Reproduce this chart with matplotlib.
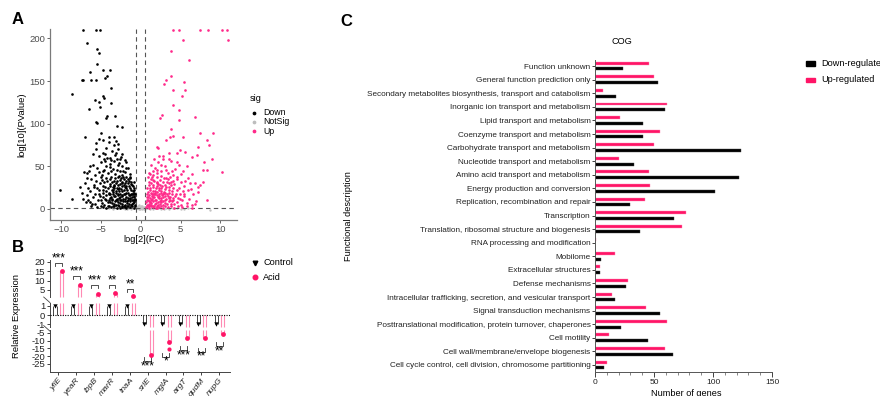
import numpy as np
import matplotlib
matplotlib.use('Agg')
import matplotlib.pyplot as plt
from matplotlib.patches import Rectangle
from matplotlib.lines import Line2D
from matplotlib.transforms import blended_transform_factory

plt.rcParams['font.family'] = ['Liberation Sans', 'DejaVu Sans']

# ---------------- Panel A: volcano data (log2FC, -log10 P) ----------------
down_pts = [
    (-7.2, 210), (-5.65, 210), (-5.1, 210), (-6.7, 194), (-5.44, 187), (-5.3, 183),
    (-5.5, 170), (-6.4, 160.6), (-7.2, 151), (-7.4, 151), (-6.3, 151.7), (-5.6, 151),
    (-4.8, 162.6), (-4.47, 154), (-4.2, 155.5), (-3.85, 162.6), (-3.77, 142), (-8.6, 134.5),
    (-4.56, 130.6), (-4.7, 132), (-3.75, 124), (-5.7, 127.5), (-5.3, 125.5), (-5.1, 119),
    (-6.5, 117.7), (-5.56, 102), (-5.44, 101), (-4.4, 107), (-4.2, 108.8), (-3.2, 108.8),
    (-2.93, 97), (-2.4, 95.5), (-7.0, 84.6), (-5.65, 76.8), (-5.0, 89.3), (-5.25, 82.3),
    (-4.7, 80.7), (-3.93, 84.6), (-3.35, 83.8), (-3.1, 80), (-2.8, 76), (-10.2, 22.2),
    (-8.6, 11.7), (-7.1, 43.7), (-6.35, 50.7), (-6.7, 35.9), (-7.6, 26), (-7.4, 18.3),
    (-6.85, 8.6), (-6.1, 5.8), (-5.9, 26),
    (-5.2, 62), (-4.8, 66), (-4.3, 72), (-3.9, 60), (-3.6, 68), (-3.2, 63), (-2.9, 70),
    (-2.6, 58), (-5.6, 70), (-4.6, 58), (-3.4, 75), (-2.3, 64), (-6.0, 64), (-4.0, 78),
    (-2.0, 57),
    (-6.5, 45), (-6.0, 52), (-5.5, 48), (-5.0, 55), (-4.7, 44), (-4.4, 50), (-4.1, 42),
    (-3.8, 53), (-3.5, 47), (-3.2, 41), (-2.9, 52), (-2.6, 45), (-2.3, 50), (-2.0, 43),
    (-1.8, 55), (-5.8, 40), (-5.3, 43), (-4.9, 40), (-3.0, 58), (-1.6, 48), (-2.4, 40),
    (-3.7, 44), (-4.5, 56), (-6.8, 42), (-1.4, 41),
    (-7.0, 30), (-6.6, 25), (-6.2, 35), (-5.9, 28), (-5.6, 33), (-5.3, 22), (-5.0, 38),
    (-4.8, 27), (-4.6, 31), (-4.3, 36), (-4.1, 24), (-3.9, 29), (-3.7, 38), (-3.5, 26),
    (-3.3, 33), (-3.1, 21), (-2.9, 37), (-2.8, 28), (-2.6, 34), (-2.5, 23), (-2.3, 30),
    (-2.2, 38), (-2.0, 26), (-1.9, 33), (-1.7, 22), (-1.6, 30), (-1.4, 36), (-1.3, 25),
    (-1.1, 28), (-0.9, 22), (-4.4, 21), (-3.6, 32), (-3.0, 24), (-2.7, 39), (-2.1, 35),
    (-1.5, 27), (-1.2, 32), (-0.8, 24), (-5.5, 25), (-4.9, 34), (-3.2, 36), (-2.4, 27),
    (-1.8, 38), (-1.0, 21), (-6.4, 21), (-5.1, 30),
    (-7.3, 12), (-6.8, 16), (-6.4, 8), (-6.0, 14), (-5.7, 18), (-5.4, 10), (-5.1, 15),
    (-4.9, 7), (-4.7, 19), (-4.5, 12), (-4.3, 16), (-4.1, 8), (-3.9, 13), (-3.8, 18),
    (-3.6, 10), (-3.4, 15), (-3.3, 6), (-3.1, 19), (-3.0, 12), (-2.9, 16), (-2.8, 8),
    (-2.7, 13), (-2.6, 18), (-2.5, 10), (-2.4, 15), (-2.3, 6), (-2.2, 12), (-2.1, 17),
    (-2.0, 9), (-1.9, 14), (-1.8, 19), (-1.7, 7), (-1.6, 11), (-1.5, 16), (-1.4, 9),
    (-1.3, 13), (-1.2, 18), (-1.1, 6), (-1.0, 11), (-0.9, 15), (-0.8, 8), (-0.75, 12),
    (-0.7, 17), (-3.5, 20), (-2.85, 5), (-1.95, 5), (-4.6, 5), (-5.8, 6), (-6.6, 11),
    (-4.0, 11), (-3.2, 9), (-2.65, 11), (-1.45, 6), (-1.05, 14), (-0.85, 19),
    (-6.2, 3), (-5.5, 2), (-5.0, 4), (-4.4, 1.5), (-4.0, 3), (-3.7, 2), (-3.3, 4),
    (-3.0, 1.5), (-2.7, 3), (-2.4, 2), (-2.1, 4), (-1.8, 1.5), (-1.6, 3), (-1.3, 2),
    (-1.1, 4), (-0.9, 1.5), (-0.7, 3), (-2.55, 1), (-1.95, 2.5), (-3.5, 3.5), (-4.7, 2.5),
    (-4.2, 33), (-3.9, 27), (-3.6, 22), (-3.3, 28), (-3.0, 33), (-2.7, 21), (-2.4, 32),
    (-2.1, 22), (-1.8, 27), (-1.5, 33), (-1.2, 22), (-0.95, 27), (-4.5, 26), (-3.8, 35),
    (-3.4, 24), (-3.1, 30), (-2.75, 25), (-2.45, 36), (-2.15, 28), (-1.85, 24), (-1.55, 35),
    (-1.25, 29), (-0.9, 31), (-4.0, 17), (-3.75, 14), (-3.45, 18), (-3.15, 11), (-2.85, 17),
    (-2.55, 14), (-2.25, 9), (-1.95, 17), (-1.65, 13), (-1.35, 16), (-1.15, 10), (-0.8, 14),
    (-0.7, 10), (-4.3, 10), (-3.65, 7), (-3.05, 5), (-2.35, 4), (-1.75, 4), (-1.25, 4.5),
    (-0.95, 7), (-0.75, 5), (-4.15, 4), (-3.85, 8), (-3.55, 12), (-3.25, 15), (-2.95, 10),
    (-2.6, 7), (-2.3, 16), (-2.0, 12), (-1.7, 9), (-1.4, 12), (-1.15, 17), (-0.88, 10),
    (-3.45, 22), (-2.9, 23), (-2.3, 21), (-1.6, 19), (-1.0, 18), (-4.8, 14), (-5.2, 18),
    (-5.0, 11), (-4.75, 22), (-3.95, 19), (-3.35, 27), (-2.6, 29), (-1.95, 30), (-1.3, 38),
    (-2.2, 44), (-3.0, 46), (-3.8, 49), (-4.6, 46), (-1.9, 48), (-2.7, 54), (-3.4, 56),
    (-4.2, 60), (-3.1, 66), (-2.5, 61), (-4.5, 64), (-3.7, 57),
]
up_pts = [
    (4.09, 210), (4.84, 210), (7.43, 210), (8.48, 210), (10.2, 210), (10.9, 210),
    (5.35, 197.7), (10.99, 197.7), (3.8, 184.8), (6.1, 174.3), (3.17, 151), (3.8, 156),
    (2.96, 147), (5.48, 149), (4.09, 139.2), (5.56, 139.2), (5.14, 132), (4.09, 121.6),
    (4.8, 115.8), (2.63, 110), (2.4, 107), (3.76, 94.3), (4.84, 104), (6.8, 108),
    (3.67, 84.6), (4.0, 85.4), (5.26, 84.6), (7.5, 88.5), (9.1, 89.3), (8.27, 80.7),
    (8.6, 74.9), (7.2, 72.9), (3.2, 80.7), (2.0, 72.9), (2.2, 71), (2.76, 62), (4.5, 65),
    (4.9, 69), (5.56, 67), (6.4, 61.2), (7.06, 63), (8.0, 55.4), (9.0, 58), (7.87, 45.6),
    (8.27, 45.6), (10.2, 42.9), (7.43, 28), (7.87, 32), (7.25, 20.3), (8.27, 10.5),
    (6.8, 5.8), (6.4, 4.7),
    (1.3, 52), (1.8, 48), (2.2, 55), (2.6, 45), (3.0, 50), (3.4, 42), (3.8, 56), (4.3, 47),
    (4.8, 52), (5.3, 44), (2.0, 42), (1.5, 45), (3.6, 58), (5.8, 50), (6.5, 41), (4.0, 40),
    (2.8, 58), (1.2, 41),
    (0.8, 25), (1.0, 32), (1.2, 22), (1.4, 37), (1.5, 28), (1.7, 33), (1.9, 24), (2.0, 38),
    (2.2, 29), (2.4, 34), (2.5, 21), (2.7, 27), (2.9, 36), (3.1, 23), (3.3, 31), (3.5, 26),
    (3.7, 38), (3.9, 21), (4.2, 29), (4.5, 35), (4.8, 24), (5.1, 31), (5.5, 27), (5.9, 36),
    (6.3, 23), (6.8, 30), (1.1, 28), (1.6, 21), (2.1, 32), (2.6, 39), (3.0, 28), (3.4, 35),
    (4.0, 25), (4.6, 38), (5.3, 21), (1.3, 35), (0.9, 38), (2.3, 24), (3.8, 32), (7.2, 26),
    (0.7, 8), (0.75, 14), (0.8, 18), (0.9, 11), (1.0, 6), (1.05, 16), (1.1, 9), (1.2, 13),
    (1.3, 19), (1.35, 7), (1.45, 12), (1.5, 17), (1.6, 9), (1.7, 14), (1.8, 6), (1.85, 19),
    (1.95, 11), (2.05, 16), (2.15, 8), (2.25, 13), (2.35, 18), (2.45, 6), (2.55, 11),
    (2.65, 16), (2.75, 9), (2.85, 14), (2.95, 19), (3.05, 7), (3.2, 12), (3.35, 17),
    (3.5, 9), (3.65, 14), (3.8, 6), (3.95, 18), (4.1, 11), (4.3, 15), (4.5, 8), (4.7, 13),
    (4.9, 18), (5.2, 10), (5.5, 15), (5.8, 7), (6.1, 12), (6.6, 17), (7.0, 9), (0.85, 5),
    (1.25, 10), (1.65, 18), (2.2, 5), (2.6, 19), (3.1, 15), (3.6, 19), (4.2, 6), (5.0, 5),
    (0.7, 2), (0.9, 3.5), (1.1, 1.5), (1.3, 3), (1.5, 2), (1.7, 4), (1.9, 1.5), (2.1, 3),
    (2.3, 2), (2.5, 4), (2.8, 1.5), (3.1, 3), (3.4, 2), (3.8, 4), (4.2, 1.5), (4.7, 3),
    (5.2, 2), (5.8, 3.5), (6.4, 1.5), (1.0, 4.5), (2.0, 0.8),
    (0.9, 20), (1.15, 24), (1.4, 18), (1.6, 26), (1.85, 21), (2.1, 27), (2.35, 22),
    (2.6, 25), (2.9, 20), (3.2, 26), (3.5, 22), (3.8, 28), (0.95, 14), (1.2, 8), (1.4, 15),
    (1.55, 4), (1.75, 11), (1.95, 7), (2.15, 14), (2.4, 9), (2.6, 13), (2.8, 5), (3.0, 10),
    (3.3, 6), (3.5, 13), (3.7, 10), (4.0, 13), (0.8, 11), (1.05, 3), (1.3, 5), (1.55, 14),
    (1.8, 17), (2.05, 20), (2.3, 15), (2.55, 8), (2.8, 17), (3.1, 19), (3.4, 15), (3.9, 9),
    (4.4, 18), (4.6, 22), (1.25, 30), (1.6, 34), (2.0, 30), (2.4, 28), (2.8, 32), (3.2, 36),
    (3.6, 30), (4.1, 33), (1.0, 42), (1.5, 40), (2.1, 46), (2.5, 52), (3.2, 46), (3.9, 45),
    (4.5, 55), (2.3, 62), (3.5, 66), (1.7, 58), (5.0, 41), (5.6, 33), (6.0, 22), (5.4, 18),
    (4.9, 12), (6.2, 30),
]
ns_pts = [
    (-3.0, 0.5), (-2.5, 1), (-2.0, 0.3), (-1.5, 0.8), (-1.0, 0.5), (-0.8, 1.2), (-0.6, 2),
    (-0.5, 0.7), (-0.4, 3), (-0.3, 1.5), (-0.2, 0.4), (-0.1, 2.5), (0.0, 1), (0.1, 0.3),
    (0.2, 1.8), (0.3, 0.6), (0.4, 2.2), (0.5, 1.1), (0.6, 0.4), (0.8, 0.9), (1.2, 0.4),
    (1.8, 0.6), (2.5, 0.3), (3.2, 0.5), (4.0, 0.8), (5.0, 0.4), (6.0, 0.6), (8.7, -1),
    (-4.0, 0.6), (-1.2, 0.2), (0.05, 4), (-0.25, 5), (-3.5, 0.2), (-2.2, 0.6), (-1.7, 0.1),
    (-0.45, 1.6), (0.15, 2.9), (0.35, 0.2), (1.5, 0.2), (2.2, 0.5), (2.9, 0.2), (3.6, 0.3),
    (4.5, 0.5), (5.5, 0.3), (-0.05, 0.2), (0.55, 2.8), (-0.55, 3.6),
]
fc_cut = 0.585
p_cut = 1.3

# ---------------- Panel B data ----------------
genes = ['yfiE', 'yeaR', 'ibpB', 'marR', 'tnaA', 'srlE', 'mglA', 'argT', 'gudM', 'nupG']
control_vals = [1, 1, 1, 1, 1, -1, -1, -1, -1, -1]
acid_vals = [15.3, 7.5, 3.0, 3.2, 1.8, -19.2, -11.0, -8.0, -8.5, -6.0]
acid_extra_gene = [6]
acid_extra_val = [-15.5]
sig_labels = ['***', '***', '***', '**', '**', '***', '*', '***', '**', '**']
sig_level = [19.6, 12.7, 7.8, 7.8, 5.7, -22.9, -20.3, -16.0, -17.0, -13.4]

# ---------------- Panel C data ----------------
cog_cats = [
    'Function unknown',
    'General function prediction only',
    'Secondary metabolites biosynthesis, transport and catabolism',
    'Inorganic ion transport and metabolism',
    'Lipid transport and metabolism',
    'Coenzyme transport and metabolism',
    'Carbohydrate transport and metabolism',
    'Nucleotide transport and metabolism',
    'Amino acid transport and metabolism',
    'Energy production and conversion',
    'Replication, recombination and repair',
    'Transcription',
    'Translation, ribosomal structure and biogenesis',
    'RNA processing and modification',
    'Mobilome',
    'Extracellular structures',
    'Defense mechanisms',
    'Intracellular trafficking, secretion, and vesicular transport',
    'Signal transduction mechanisms',
    'Posttranslational modification, protein turnover, chaperones',
    'Cell motility',
    'Cell wall/membrane/envelope biogenesis',
    'Cell cycle control, cell division, chromosome partitioning',
]
cog_up = [46, 50, 7, 61, 21, 55, 50, 20, 46, 47, 42, 77, 74, 1, 17, 4, 28, 14, 43, 61, 12, 59, 10]
cog_down = [24, 53, 18, 59, 41, 41, 124, 33, 122, 102, 30, 67, 38, 0, 5, 4, 26, 17, 55, 22, 45, 66, 8]

W, H = 880, 396
fig = plt.figure(figsize=(W / 100, H / 100), dpi=100)


def fx(px):
    return px / W


def fy(py):
    return 1 - py / H


def box(l, t, r, b):
    return [fx(l), fy(b), (r - l) / W, (b - t) / H]


PINK_A = '#ff2a8a'
PINK = '#ff1466'
PINK_LIGHT = '#ff8ab4'

# ======================= Panel A =======================
axA = fig.add_axes(box(50, 29, 237, 220))
dx, dy = zip(*down_pts)
ux, uy = zip(*up_pts)
nx, ny = zip(*ns_pts)
axA.scatter(nx, ny, s=3.0, color='#c4c4c4', linewidths=0, zorder=2)
axA.scatter(dx, dy, s=3.6, color='black', linewidths=0, zorder=3)
axA.scatter(ux, uy, s=3.6, color=PINK_A, linewidths=0, zorder=3)
axA.axvline(-fc_cut, color='#555555', ls=(0, (4, 3)), lw=0.8)
axA.axvline(fc_cut, color='#555555', ls=(0, (4, 3)), lw=0.8)
axA.axhline(p_cut, color='#555555', ls=(0, (4, 3)), lw=0.8)
axA.set_xlim(-11.4, 12.1)
axA.set_ylim(-13, 211)
axA.set_xticks([-10, -5, 0, 5, 10])
axA.set_xticklabels(['\u221210', '\u22125', '0', '5', '10'])
axA.set_yticks([0, 50, 100, 150, 200])
for s in ['top', 'right']:
    axA.spines[s].set_visible(False)
for s in ['left', 'bottom']:
    axA.spines[s].set_color('#7a7a7a')
    axA.spines[s].set_linewidth(0.9)
axA.tick_params(labelsize=6.8, colors='#4d4d4d', length=2.5, width=0.6, pad=1)
axA.set_xlabel('log[2](FC)', fontsize=6.6, labelpad=1)
axA.set_ylabel('log[10](PValue)', fontsize=6.8, labelpad=2)

fig.text(fx(250), fy(98.7), 'sig', fontsize=6.6, va='center', ha='left')
for yy, lab, col in [(112.7, 'Down', 'black'), (122, 'NotSig', '#bdbdbd'), (131, 'Up', PINK_A)]:
    fig.add_artist(Line2D([fx(254)], [fy(yy)], marker='o', ms=1.7, color=col, lw=0,
                          transform=fig.transFigure))
    fig.text(fx(263), fy(yy), lab, fontsize=6.3, va='center', ha='left')

# ======================= Panel B =======================
axB = fig.add_axes(box(50, 260, 230, 371.7))
vals_k = [-30, -3.0, -1.3, 1.3, 1.5, 21]
disp_k = [0, 41.8, 44.5, 68.3, 74.9, 111.3]
segments = [(-30, -3.0), (-1.3, 1.3), (1.5, 21)]


def fwd(v):
    return np.interp(v, vals_k, disp_k)


def inv(d):
    return np.interp(d, disp_k, vals_k)


axB.set_yscale('function', functions=(fwd, inv))
axB.set_ylim(-30, 21)
axB.set_xlim(-0.46, 9.6)
xpos = np.arange(len(genes))
off_c, off_a, hw = -0.18, 0.2, 0.085


def seg_pieces(a, b):
    lo, hi = min(a, b), max(a, b)
    out = []
    for s0, s1 in segments:
        p0, p1 = max(lo, s0), min(hi, s1)
        if p1 > p0:
            out.append((p0, p1))
    return out


for i, (c, a) in enumerate(zip(control_vals, acid_vals)):
    xc, xa = xpos[i] + off_c, xpos[i] + off_a
    for p0, p1 in seg_pieces(0, c):
        axB.vlines([xc - hw, xc + hw], p0, p1, color='#444444', lw=0.7, zorder=2)
    for p0, p1 in seg_pieces(0, a):
        axB.vlines([xa - hw, xa + hw], p0, p1, color=PINK_LIGHT, lw=0.8, zorder=2)

axB.scatter(xpos + off_c, control_vals, marker='v', s=10, color='black', zorder=4, linewidths=0)
axB.scatter(xpos + off_a, acid_vals, marker='o', s=12, color=PINK, zorder=4, linewidths=0)
axB.scatter(np.array(acid_extra_gene) + off_a, acid_extra_val, marker='o', s=9, color=PINK,
            zorder=4, linewidths=0)
axB.axhline(0, color='black', ls=(0, (1, 1.2)), lw=0.8, zorder=3)

for i, (lab, lev, a) in enumerate(zip(sig_labels, sig_level, acid_vals)):
    xc, xa = xpos[i] + off_c, xpos[i] + off_a
    d = fwd(lev)
    if a > 0:
        tip = inv(d - 3.5)
        va, off = 'bottom', -1.0
    else:
        tip = inv(d + 3.5)
        va, off = 'top', 0.5
    axB.plot([xc, xc, xa, xa], [tip, lev, lev, tip], color='#333333', lw=0.6, clip_on=False)
    axB.annotate(lab, xy=((xc + xa) / 2, lev), xytext=(0, off), textcoords='offset points',
                 ha='center', va=va, fontsize=8.5, annotation_clip=False)

axB.spines['left'].set_visible(False)
for s in ['top', 'right']:
    axB.spines[s].set_visible(False)
axB.spines['bottom'].set_color('#444444')
axB.spines['bottom'].set_linewidth(0.7)
trB = blended_transform_factory(axB.transAxes, axB.transData)
for s0, s1 in segments:
    axB.plot([0, 0], [s0, s1], transform=trB, color='#444444', lw=0.7, clip_on=False)
for g0, g1 in [(-3.0, -1.3), (1.3, 1.5)]:
    dm = (fwd(g0) + fwd(g1)) / 2
    axB.plot([-0.035, 0.0], [inv(dm + 2.8), inv(dm - 2.8)], transform=trB, color='#444444',
             lw=0.6, clip_on=False)
axB.set_yticks([-25, -20, -15, -10, -5, -1, 0, 1, 5, 10, 15, 20])
axB.set_yticklabels(['-25', '-20', '-15', '-10', '-5', '-1', '0', '1', '5', '10', '15', '20'])
axB.set_xticks(xpos)
axB.set_xticklabels(genes, rotation=50, ha='right', rotation_mode='anchor', style='italic')
axB.tick_params(axis='y', labelsize=6.8, length=2.5, width=0.6, pad=1, colors='#222222')
axB.tick_params(axis='x', labelsize=6.1, length=2.5, width=0.6, pad=1.2, colors='#222222')
fig.text(fx(17), fy(316), 'Relative Expression', fontsize=6.8, rotation=90,
         ha='center', va='center')

fig.add_artist(Line2D([fx(255)], [fy(262.7)], marker='v', ms=3.3, color='black', lw=0,
                      transform=fig.transFigure))
fig.text(fx(263), fy(262.7), 'Control', fontsize=6.6, va='center', ha='left')
fig.add_artist(Line2D([fx(255)], [fy(277.3)], marker='o', ms=3.3, color=PINK, lw=0,
                      transform=fig.transFigure))
fig.text(fx(263), fy(277.3), 'Acid', fontsize=6.6, va='center', ha='left')

# ======================= Panel C =======================
axC = fig.add_axes(box(595, 60, 772, 371.7))
yy = np.arange(len(cog_cats))
axC.barh(yy - 0.21, cog_up, height=0.22, color=PINK, edgecolor=PINK_LIGHT, linewidth=0.3)
axC.barh(yy + 0.21, cog_down, height=0.22, color='black', edgecolor='#444444', linewidth=0.3)
axC.set_ylim(len(cog_cats) - 0.5, -0.45)
axC.set_xlim(0, 150)
axC.set_yticks(yy)
axC.set_yticklabels(cog_cats)
axC.set_xticks([0, 50, 100, 150])
axC.set_xticks(np.arange(0, 151, 10), minor=True)
for s in ['top', 'right']:
    axC.spines[s].set_visible(False)
for s in ['left', 'bottom']:
    axC.spines[s].set_color('#555555')
    axC.spines[s].set_linewidth(0.7)
axC.tick_params(axis='y', labelsize=5.85, length=2.5, width=0.6, pad=0.8, colors='#222222')
axC.tick_params(axis='x', which='major', labelsize=6.0, length=3.5, width=0.6, pad=2,
                colors='#222222')
axC.tick_params(axis='x', which='minor', length=2.2, width=0.5, colors='#555555')
fig.text(fx(686), fy(389.5), 'Number of genes', fontsize=6.6, ha='center', va='top')
fig.text(fx(348), fy(216), 'Functional description', fontsize=6.6, ha='center', va='center',
         rotation=90)
fig.text(fx(622), fy(42), 'COG', fontsize=6.6, ha='center', va='center')
fig.add_artist(Rectangle((fx(806), fy(65.5)), 9 / W, 4.5 / H, transform=fig.transFigure,
                         color='black'))
fig.add_artist(Rectangle((fx(806), fy(82)), 9 / W, 4.5 / H, transform=fig.transFigure,
                         color=PINK))
fig.text(fx(821), fy(63.5), 'Down-regulated', fontsize=6.6, ha='left', va='center')
fig.text(fx(821), fy(80), 'Up-regulated', fontsize=6.6, ha='left', va='center')

fig.text(fx(12), fy(20), 'A', fontsize=12, fontweight='bold', va='center', ha='left')
fig.text(fx(12), fy(248), 'B', fontsize=12, fontweight='bold', va='center', ha='left')
fig.text(fx(340), fy(22), 'C', fontsize=12, fontweight='bold', va='center', ha='left')

fig.savefig('out.png', dpi=100)
